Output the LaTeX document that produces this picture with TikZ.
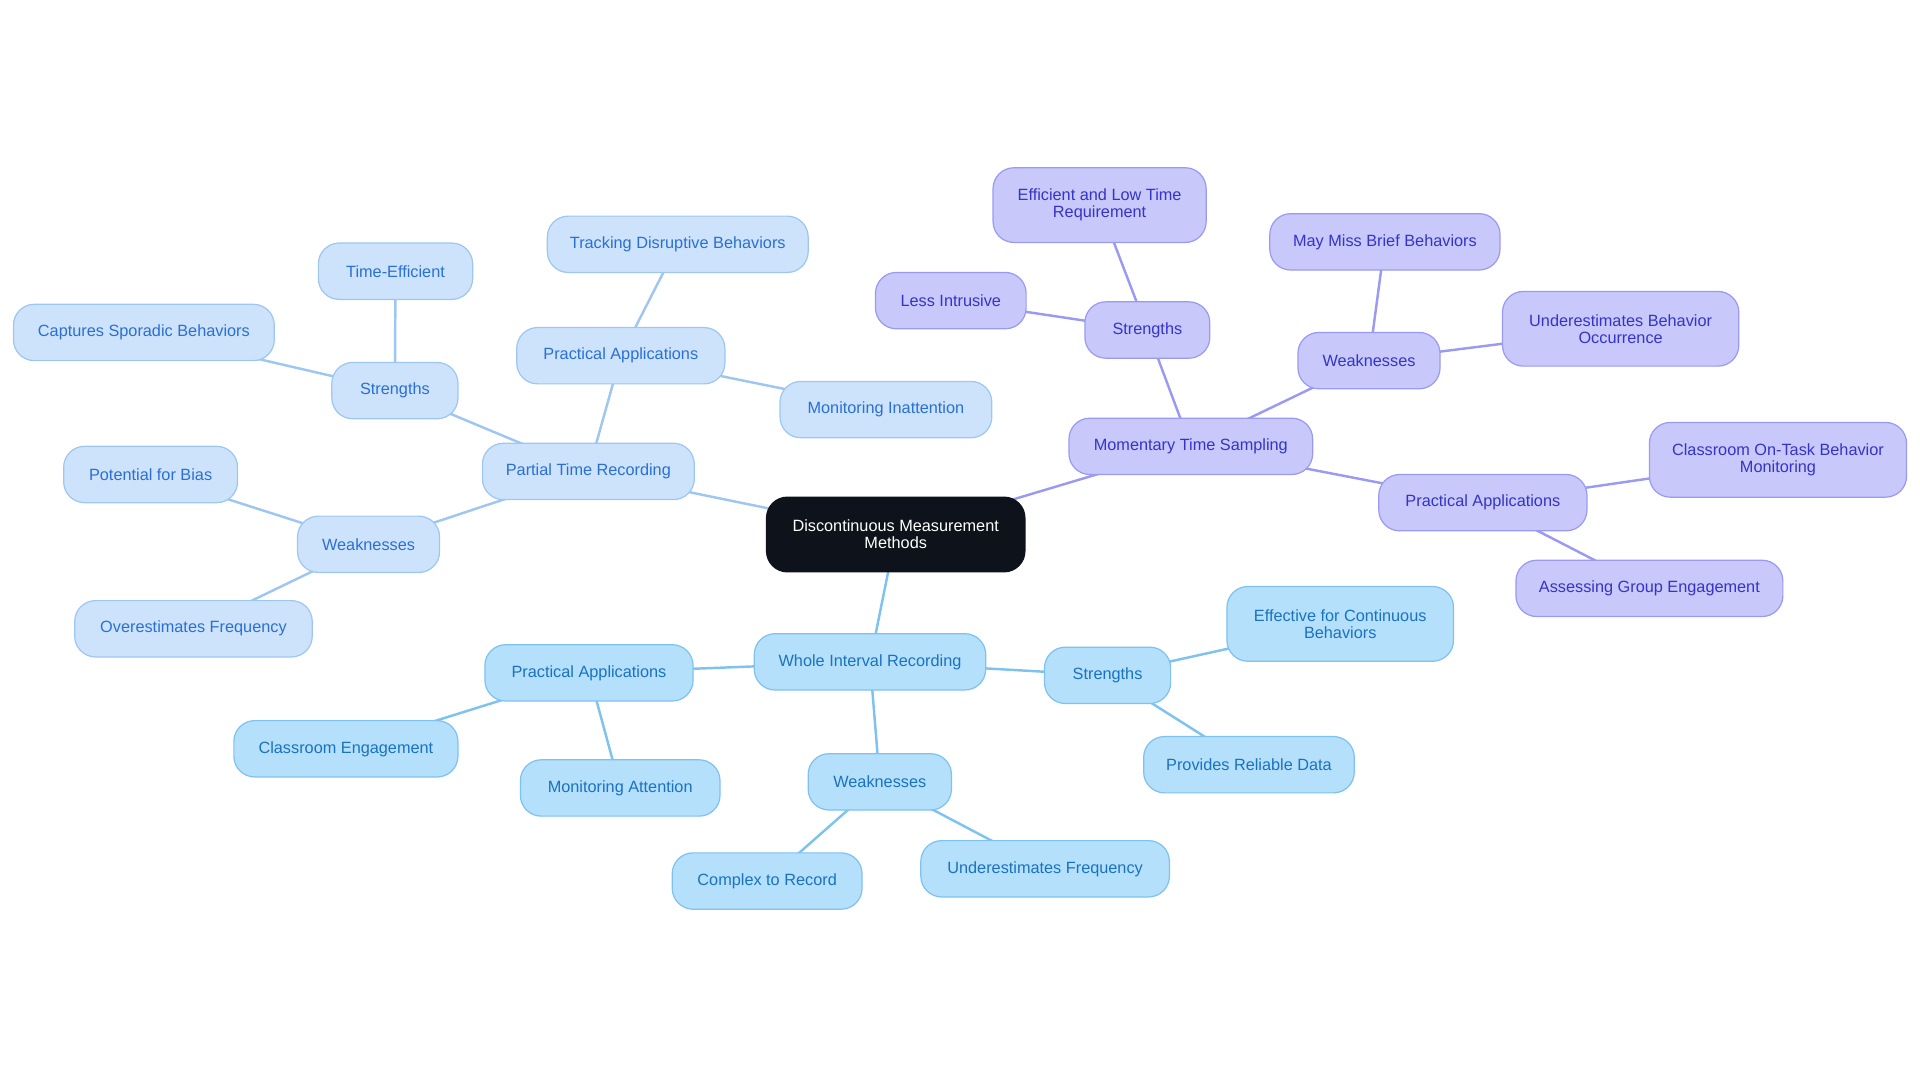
\documentclass[tikz,border=0pt]{standalone}
\usepackage{fontspec}
\setmainfont{Liberation Sans}
\usetikzlibrary{backgrounds}
\definecolor{rootc}{HTML}{0D121B}
\definecolor{pfill}{HTML}{CDE3FB}
\definecolor{pline}{HTML}{9EC6F3}
\definecolor{ptext}{HTML}{2A6FD6}
\definecolor{mfill}{HTML}{C8C8FB}
\definecolor{mline}{HTML}{9A9AF2}
\definecolor{mtext}{HTML}{3434C8}
\definecolor{wfill}{HTML}{B4E0FC}
\definecolor{wline}{HTML}{7EC2F0}
\definecolor{wtext}{HTML}{1A72C0}
\tikzset{
  box/.style={rounded corners=17pt, inner sep=0pt, align=center, font=\fontsize{13.3}{14}\selectfont, line width=1pt},
  pbox/.style={box, fill=pfill, draw=pline, text=ptext},
  mbox/.style={box, fill=mfill, draw=mline, text=mtext},
  wbox/.style={box, fill=wfill, draw=wline, text=wtext},
  rbox/.style={box, fill=rootc, draw=rootc, text=white},
  pl/.style={draw=pline, line width=2pt},
  ml/.style={draw=mline, line width=2pt},
  wl/.style={draw=wline, line width=2pt},
}
\begin{document}
\begin{tikzpicture}[x=1pt,y=-1pt]
\useasboundingbox (0,0) rectangle (1568,884);
% root
\node[rbox, minimum width=211pt, minimum height=61pt] (root) at (731.5,436.5) {Discontinuous Measurement\\Methods};
% Partial Time Recording
\node[pbox, minimum width=173pt, minimum height=46pt] (ptr) at (480.5,385) {Partial Time Recording};
\node[pbox, minimum width=103pt, minimum height=46pt] (ptrs) at (322.5,319) {Strengths};
\node[pbox, minimum width=126pt, minimum height=46pt] (ptrs1) at (323,221.5) {Time-Efficient};
\node[pbox, minimum width=213pt, minimum height=46pt] (ptrs2) at (117.5,271.5) {Captures Sporadic Behaviors};
\node[pbox, minimum width=116pt, minimum height=46pt] (ptrw) at (301,444.5) {Weaknesses};
\node[pbox, minimum width=142pt, minimum height=46pt] (ptrw1) at (123,387.5) {Potential for Bias};
\node[pbox, minimum width=194pt, minimum height=46pt] (ptrw2) at (158,513.5) {Overestimates Frequency};
\node[pbox, minimum width=170pt, minimum height=46pt] (ptra) at (507,290.5) {Practical Applications};
\node[pbox, minimum width=213pt, minimum height=46pt] (ptra1) at (553.5,199.5) {Tracking Disruptive Behaviors};
\node[pbox, minimum width=173pt, minimum height=46pt] (ptra2) at (723.5,334.5) {Monitoring Inattention};
% Momentary Time Sampling
\node[mbox, minimum width=199pt, minimum height=46pt] (mts) at (972.5,364.5) {Momentary Time Sampling};
\node[mbox, minimum width=102pt, minimum height=46pt] (mtss) at (937,269.5) {Strengths};
\node[mbox, minimum width=174pt, minimum height=61pt] (mtss1) at (898,167.5) {Efficient and Low Time\\Requirement};
\node[mbox, minimum width=123pt, minimum height=46pt] (mtss2) at (776.5,245.5) {Less Intrusive};
\node[mbox, minimum width=116pt, minimum height=46pt] (mtsw) at (1118,294.5) {Weaknesses};
\node[mbox, minimum width=188pt, minimum height=46pt] (mtsw1) at (1131,197.5) {May Miss Brief Behaviors};
\node[mbox, minimum width=193pt, minimum height=61pt] (mtsw2) at (1323.5,268.5) {Underestimates Behavior\\Occurrence};
\node[mbox, minimum width=170pt, minimum height=46pt] (mtsa) at (1211,410.5) {Practical Applications};
\node[mbox, minimum width=210pt, minimum height=61pt] (mtsa1) at (1452,375.5) {Classroom On-Task Behavior\\Monitoring};
\node[mbox, minimum width=218pt, minimum height=46pt] (mtsa2) at (1347,480.5) {Assessing Group Engagement};
% Whole Interval Recording
\node[wbox, minimum width=189pt, minimum height=46pt] (wir) at (710.5,540.5) {Whole Interval Recording};
\node[wbox, minimum width=103pt, minimum height=46pt] (wirs) at (904.5,551.5) {Strengths};
\node[wbox, minimum width=185pt, minimum height=61pt] (wirs1) at (1094.5,509.5) {Effective for Continuous\\Behaviors};
\node[wbox, minimum width=172pt, minimum height=46pt] (wirs2) at (1020,624.5) {Provides Reliable Data};
\node[wbox, minimum width=117pt, minimum height=46pt] (wirw) at (718.5,638.5) {Weaknesses};
\node[wbox, minimum width=155pt, minimum height=46pt] (wirw1) at (626.5,719.5) {Complex to Record};
\node[wbox, minimum width=203pt, minimum height=46pt] (wirw2) at (853.5,709.5) {Underestimates Frequency};
\node[wbox, minimum width=170pt, minimum height=46pt] (wira) at (481,549.5) {Practical Applications};
\node[wbox, minimum width=183pt, minimum height=46pt] (wira1) at (282.5,611.5) {Classroom Engagement};
\node[wbox, minimum width=163pt, minimum height=46pt] (wira2) at (506.5,643.5) {Monitoring Attention};
% connectors
\begin{scope}[on background layer]
\path[pl] (root.center) -- (ptr.center);
\path[pl] (ptr.center) -- (ptrs.center);
\path[pl] (ptrs.center) -- (ptrs1.center);
\path[pl] (ptrs.center) -- (ptrs2.center);
\path[pl] (ptr.center) -- (ptrw.center);
\path[pl] (ptrw.center) -- (ptrw1.center);
\path[pl] (ptrw.center) -- (ptrw2.center);
\path[pl] (ptr.center) -- (ptra.center);
\path[pl] (ptra.center) -- (ptra1.center);
\path[pl] (ptra.center) -- (ptra2.center);
\path[ml] (root.center) -- (mts.center);
\path[ml] (mts.center) -- (mtss.center);
\path[ml] (mtss.center) -- (mtss1.center);
\path[ml] (mtss.center) -- (mtss2.center);
\path[ml] (mts.center) -- (mtsw.center);
\path[ml] (mtsw.center) -- (mtsw1.center);
\path[ml] (mtsw.center) -- (mtsw2.center);
\path[ml] (mts.center) -- (mtsa.center);
\path[ml] (mtsa.center) -- (mtsa1.center);
\path[ml] (mtsa.center) -- (mtsa2.center);
\path[wl] (root.center) -- (wir.center);
\path[wl] (wir.center) -- (wirs.center);
\path[wl] (wirs.center) -- (wirs1.center);
\path[wl] (wirs.center) -- (wirs2.center);
\path[wl] (wir.center) -- (wirw.center);
\path[wl] (wirw.center) -- (wirw1.center);
\path[wl] (wirw.center) -- (wirw2.center);
\path[wl] (wir.center) -- (wira.center);
\path[wl] (wira.center) -- (wira1.center);
\path[wl] (wira.center) -- (wira2.center);
\end{scope}
\end{tikzpicture}
\end{document}
